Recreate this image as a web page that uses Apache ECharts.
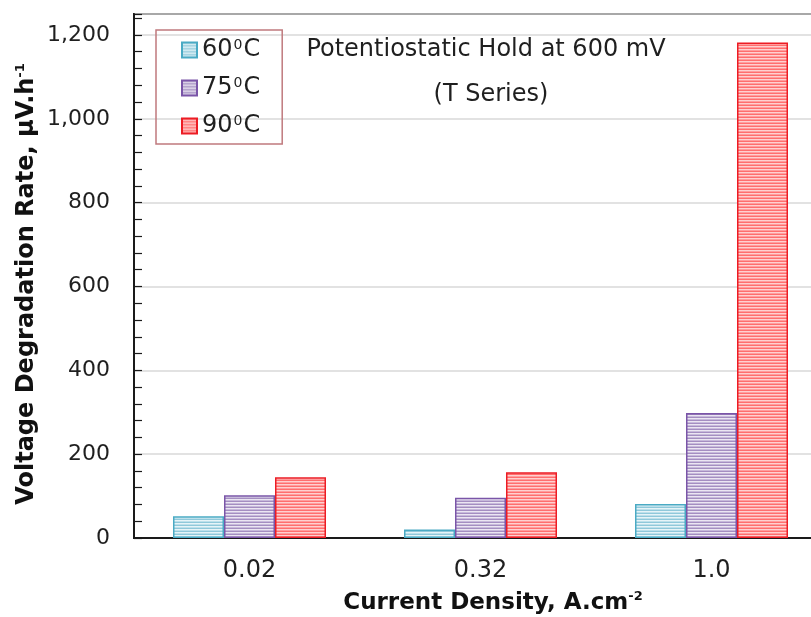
<!DOCTYPE html>
<html>
<head>
<meta charset="utf-8">
<script src="https://cdn.jsdelivr.net/npm/echarts@6/dist/echarts.min.js"></script>
<style>
  html, body { margin: 0; padding: 0; background: #ffffff; overflow: hidden; }
  /* plot area runs past the right edge of the window, so the canvas is a bit wider */
  #chart { width: 840px; height: 617px; }
</style>
</head>
<body>
<div id="chart"></div>
<script>
// Current density categories (A.cm^-2)
const categories = ['0.02', '0.32', '1.0'];
// Voltage degradation rate (µV/h) at each temperature
const rate60 = [52, 20, 81];
const rate75 = [102, 96, 298];
const rate90 = [145, 157, 1182];
const temperatures = ['60', '75', '90'];
// Y axis range and tick spacing
const yMin = 0;
const yMax = 1250;
const yMajor = 200;
const yMinor = 40;

const FONT = '"DejaVu Sans", "Liberation Sans", Arial, sans-serif';
const INK = '#1f1f1f';

// Horizontal hatch fill built as a repeating canvas pattern
function stripes(rows) {
  const c = document.createElement('canvas');
  c.width = 4;
  c.height = rows.length;
  const ctx = c.getContext('2d');
  rows.forEach((col, i) => { ctx.fillStyle = col; ctx.fillRect(0, i, 4, 1); });
  return { image: c, repeat: 'repeat' };
}

const styles = [
  { fill: stripes(['#8fc8da', '#e6f4f8', '#bde0eb']), border: '#4aaac4' },
  { fill: stripes(['#a48ec1', '#ebe6f2', '#c7badb']), border: '#7a55a8' },
  { fill: stripes(['#ff6e6e', '#ffd0d0', '#ff9d9d']), border: '#ec1c24' }
];
const values = [rate60, rate75, rate90];

const chart = echarts.init(document.getElementById('chart'), null, { renderer: 'canvas' });

const supRich = (size, weight) => ({
  b: { fontFamily: FONT, fontWeight: weight, fontSize: size, fill: '#111', color: '#111', lineHeight: 26 },
  s: { fontFamily: FONT, fontWeight: weight, fontSize: 13, fill: '#111', color: '#111', verticalAlign: 'top', lineHeight: 13 }
});

const option = {
  animation: false,
  backgroundColor: '#ffffff',
  grid: {
    show: true,
    left: 134, top: 14, width: 693, height: 524,
    borderColor: '#1a1a1a', borderWidth: 2,
    backgroundColor: 'transparent'
  },
  legend: {
    orient: 'vertical',
    left: 156, top: 30,
    padding: [8, 22, 6, 25],
    itemGap: 14,
    itemWidth: 15, itemHeight: 15,
    icon: 'rect',
    borderColor: '#c07a7e', borderWidth: 1.5,
    data: temperatures,
    formatter: name => '{t|' + name + '}{s|0}{t|C}',
    textStyle: {
      fontFamily: FONT, fontSize: 24, color: INK,
      rich: {
        t: { fontFamily: FONT, fontSize: 24, color: INK, lineHeight: 24, verticalAlign: 'middle' },
        s: { fontFamily: FONT, fontSize: 14, color: INK, lineHeight: 9, verticalAlign: 'top', padding: [0, 1, 0, 1] }
      }
    }
  },
  xAxis: {
    type: 'category',
    data: categories,
    axisLine: { show: true, lineStyle: { color: '#1a1a1a', width: 2 } },
    axisTick: { show: false },
    axisLabel: { fontFamily: FONT, fontSize: 24, color: INK, margin: 21 },
    splitLine: { show: false }
  },
  yAxis: [
    {
      type: 'value',
      min: yMin, max: yMax, interval: yMajor,
      axisLine: { show: true, lineStyle: { color: '#1a1a1a', width: 2 } },
      axisTick: { show: false },
      axisLabel: {
        fontFamily: FONT, fontSize: 22, color: INK, margin: 24,
        formatter: v => (v % yMajor === 0 ? v.toLocaleString('en-US') : '')
      },
      splitLine: { show: true, lineStyle: { color: '#d9d9d9', width: 1.5 } }
    },
    {
      type: 'value',
      min: yMin, max: yMax, interval: yMinor,
      position: 'left',
      axisLine: { show: false },
      axisTick: { show: true, inside: true, length: 8, lineStyle: { color: '#1a1a1a', width: 1.2 } },
      axisLabel: { show: false },
      splitLine: { show: false }
    }
  ],
  series: temperatures.map((t, i) => ({
    name: t,
    type: 'bar',
    yAxisIndex: 0,
    data: values[i],
    barWidth: 51,
    barGap: '0%',
    itemStyle: { color: styles[i].fill, borderColor: styles[i].border, borderWidth: 1.5 },
    emphasis: { disabled: true }
  })),
  graphic: [
    {
      type: 'text', x: 486, y: 50,
      style: { text: 'Potentiostatic Hold at 600 mV', font: '24px ' + FONT, fill: INK, align: 'center', verticalAlign: 'middle' }
    },
    {
      type: 'text', x: 491, y: 95,
      style: { text: '(T Series)', font: '24px ' + FONT, fill: INK, align: 'center', verticalAlign: 'middle' }
    },
    {
      type: 'text', x: 27, y: 284, rotation: Math.PI / 2,
      style: {
        text: '{b|Voltage Degradation Rate, μV.h}{s|-1}',
        align: 'center', verticalAlign: 'middle',
        rich: supRich(24, 'bold')
      }
    },
    {
      type: 'text', x: 493, y: 603,
      style: {
        text: '{b|Current Density, A.cm}{s|-2}',
        align: 'center', verticalAlign: 'middle',
        rich: supRich(23, 'bold')
      }
    }
  ]
};

chart.setOption(option);
</script>
</body>
</html>
